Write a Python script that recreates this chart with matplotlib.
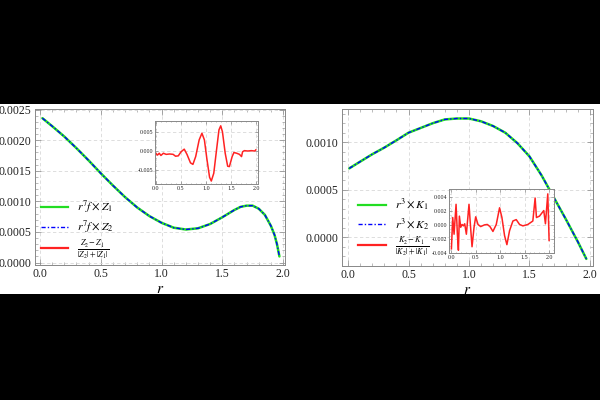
import matplotlib
matplotlib.use('Agg')
import matplotlib.pyplot as plt
from matplotlib.lines import Line2D
from matplotlib.patches import Rectangle
from matplotlib.ticker import MultipleLocator, FormatStrFormatter

plt.rcParams['font.family'] = ['Liberation Serif', 'DejaVu Serif']
plt.rcParams['mathtext.fontset'] = 'stix'

# ---------------- data: left panel ----------------
r_left = [0.02, 0.1, 0.2, 0.3, 0.4, 0.5, 0.6, 0.7, 0.8, 0.9, 1.0, 1.1, 1.2,
          1.3, 1.4, 1.5, 1.6, 1.65, 1.7, 1.75, 1.8, 1.85, 1.9, 1.93, 1.95, 1.97]
z1_left = [0.00236, 0.00223, 0.00206, 0.00187, 0.00167, 0.00146, 0.00126,
           0.00107, 0.00090, 0.00076, 0.00065, 0.00057, 0.00054, 0.00056,
           0.00063, 0.00074, 0.00086, 0.00091, 0.00093, 0.00093, 0.00088,
           0.00078, 0.00060, 0.00045, 0.00030, 0.00010]
z2_left = list(z1_left)

r_inset_left = [0.0, 0.034, 0.069, 0.103, 0.152, 0.207, 0.276, 0.345, 0.393,
                0.448, 0.503, 0.566, 0.62, 0.69, 0.738, 0.793, 0.862, 0.917,
                0.966, 1.014, 1.069, 1.103, 1.152, 1.207, 1.255, 1.29, 1.324,
                1.379, 1.428, 1.462, 1.517, 1.552, 1.607, 1.662, 1.703, 1.724,
                1.759, 1.828, 1.897, 1.966, 1.986]
dz_inset_left = [-0.0006, -0.0011, -0.0006, -0.0012, -0.0006, -0.0009, -0.0008,
                 -0.0009, -0.0014, -0.0013, -0.0002, 0.0005, -0.0009, -0.0032,
                 -0.0036, -0.0015, 0.0030, 0.0048, 0.0030, -0.0020, -0.0071,
                 -0.0081, -0.0060, 0.0003, 0.0057, 0.0068, 0.0052, -0.0006,
                 -0.0041, -0.0042, -0.0015, -0.0004, -0.0006, -0.0009, -0.0015,
                 -0.0002, 0.0001, 0.0000, 0.0001, 0.0000, 0.0003]

# ---------------- data: right panel ----------------
r_right = [0.01, 0.1, 0.2, 0.3, 0.4, 0.5, 0.6, 0.7, 0.8, 0.9, 1.0, 1.1, 1.2,
           1.3, 1.4, 1.5, 1.6, 1.7, 1.8, 1.9, 1.97]
k1_right = [0.000724, 0.000795, 0.000873, 0.000943, 0.00102, 0.00110, 0.00115,
            0.00120, 0.00124, 0.00125, 0.00125, 0.00122, 0.00117, 0.00110,
            0.00099, 0.00085, 0.00065, 0.00042, 0.00019, -0.00005, -0.00023]
k2_right = list(k1_right)

r_inset_right = [0.0, 0.027, 0.054, 0.095, 0.122, 0.143, 0.163, 0.19, 0.218,
                 0.245, 0.272, 0.306, 0.36, 0.388, 0.422, 0.463, 0.497, 0.544,
                 0.599, 0.68, 0.735, 0.789, 0.85, 0.918, 0.986, 1.034, 1.088,
                 1.136, 1.19, 1.259, 1.327, 1.395, 1.463, 1.565, 1.667, 1.714,
                 1.741, 1.803, 1.891, 1.925, 1.973, 2.0]
dk_inset_right = [-0.0034, 0.0011, -0.0013, 0.0030, -0.0013, -0.0036, 0.0013,
                  -0.0003, 0.0001, -0.0001, 0.0002, -0.0013, 0.0030, 0.0001,
                  -0.0031, -0.0003, 0.0012, 0.0001, -0.0002, 0.00005, 0.0001,
                  -0.0002, -0.0009, 0.0001, 0.0025, 0.0011, -0.0015, -0.0028,
                  -0.0008, 0.0006, 0.0008, 0.0001, -0.0001, 0.0001, 0.0006,
                  0.0039, 0.0011, 0.0013, 0.0021, 0.0002, 0.0045, -0.0022]

leg_left = [r'$r^7 f\times Z_1$', r'$r^7 f\times Z_2$',
            r'$\frac{Z_2-Z_1}{|Z_2|+|Z_1|}$']
leg_right = [r'$r^3\times K_1$', r'$r^3\times K_2$',
             r'$\frac{K_2-K_1}{|K_2|+|K_1|}$']

GREEN = '#22dd22'
BLUE = '#0000ff'
RED = '#ff2222'
FRAME = '#888888'
GRID = '#d8d8d8'
DASHDOT = (0, (3, 1.5, 1, 1.5))

fig = plt.figure(figsize=(6, 4), dpi=100)
fig.patch.set_facecolor('white')


def style(ax, xmaj, xmin, ymaj, ymin, yfmt, size, maj_len, min_len, pad):
    ax.xaxis.set_major_locator(MultipleLocator(xmaj))
    ax.xaxis.set_minor_locator(MultipleLocator(xmin))
    ax.yaxis.set_major_locator(MultipleLocator(ymaj))
    ax.yaxis.set_minor_locator(MultipleLocator(ymin))
    ax.xaxis.set_major_formatter(FormatStrFormatter('%.1f'))
    ax.yaxis.set_major_formatter(FormatStrFormatter(yfmt))
    ax.tick_params(which='both', direction='in', top=True, right=True,
                   colors=FRAME, labelcolor='#222222', labelsize=size, pad=pad)
    ax.tick_params(which='major', length=maj_len, width=0.5)
    ax.tick_params(which='minor', length=min_len, width=0.4)
    for s in ax.spines.values():
        s.set_color(FRAME)
        s.set_linewidth(0.7)
    ax.grid(True, which='major', ls=(0, (4, 3)), color=GRID, lw=0.6)
    ax.set_axisbelow(True)


def legend(ax, labels, anchor, textpad):
    handles = [Line2D([], [], color=GREEN, lw=1.6),
               Line2D([], [], color=BLUE, lw=1.0, ls=DASHDOT),
               Line2D([], [], color=RED, lw=1.6)]
    ax.legend(handles, labels, loc='upper left', bbox_to_anchor=anchor,
              frameon=False, fontsize=8.5, handlelength=2.35,
              handletextpad=textpad, labelspacing=0.32, borderaxespad=0.3)


# ---------------- left panel ----------------
axL = fig.add_axes([0.0583, 0.3375, 0.4167, 0.39])
axL.plot(r_left, z1_left, color=GREEN, lw=1.8, solid_capstyle='round')
axL.plot(r_left, z2_left, color=BLUE, lw=1.0, ls=DASHDOT)
axL.set_xlim(-0.041, 2.016)
axL.set_ylim(-0.00004, 0.00251)
style(axL, 0.5, 0.1, 0.0005, 0.0001, '%.4f', 8.5, 4, 2, 2.5)
axL.set_xlabel('$r$', fontsize=11, labelpad=2)

insL = fig.add_axes([0.2583, 0.54, 0.1717, 0.1575])
insL.plot(r_inset_left, dz_inset_left, color=RED, lw=1.1)
insL.set_xlim(-0.015, 2.03)
insL.set_ylim(-0.0089, 0.0081)
style(insL, 0.5, 0.1, 0.005, 0.001, '%.3f', 4.3, 2, 1, 1.5)

legend(axL, leg_left, (-0.01, 0.478), 0.7)

# ---------------- right panel ----------------
axR = fig.add_axes([0.57, 0.335, 0.4183, 0.3925])
axR.plot(r_right, k1_right, color=GREEN, lw=1.8, solid_capstyle='round')
axR.plot(r_right, k2_right, color=BLUE, lw=1.0, ls=DASHDOT)
axR.set_xlim(-0.05, 2.025)
axR.set_ylim(-0.000305, 0.00135)
style(axR, 0.5, 0.1, 0.0005, 0.0001, '%.4f', 8.5, 4, 2, 2.5)
axR.set_xlabel('$r$', fontsize=11, labelpad=2)

insR = fig.add_axes([0.7483, 0.3675, 0.175, 0.16])
insR.plot(r_inset_right, dk_inset_right, color=RED, lw=1.1)
insR.set_xlim(-0.05, 2.1)
insR.set_ylim(-0.004, 0.0052)
style(insR, 0.5, 0.1, 0.002, 0.0005, '%.3f', 4.3, 2, 1, 1.5)
insR.patch.set_facecolor('white')

legend(axR, leg_right, (0.03, 0.495), 0.8)

# black letterbox bands
fig.add_artist(Rectangle((0, 0), 1, (400 - 294) / 400, transform=fig.transFigure,
                         facecolor='black', edgecolor='none', zorder=100))
fig.add_artist(Rectangle((0, 1 - 104 / 400), 1, 104 / 400, transform=fig.transFigure,
                         facecolor='black', edgecolor='none', zorder=100))

fig.savefig('out.png', dpi=100, facecolor=fig.get_facecolor())
